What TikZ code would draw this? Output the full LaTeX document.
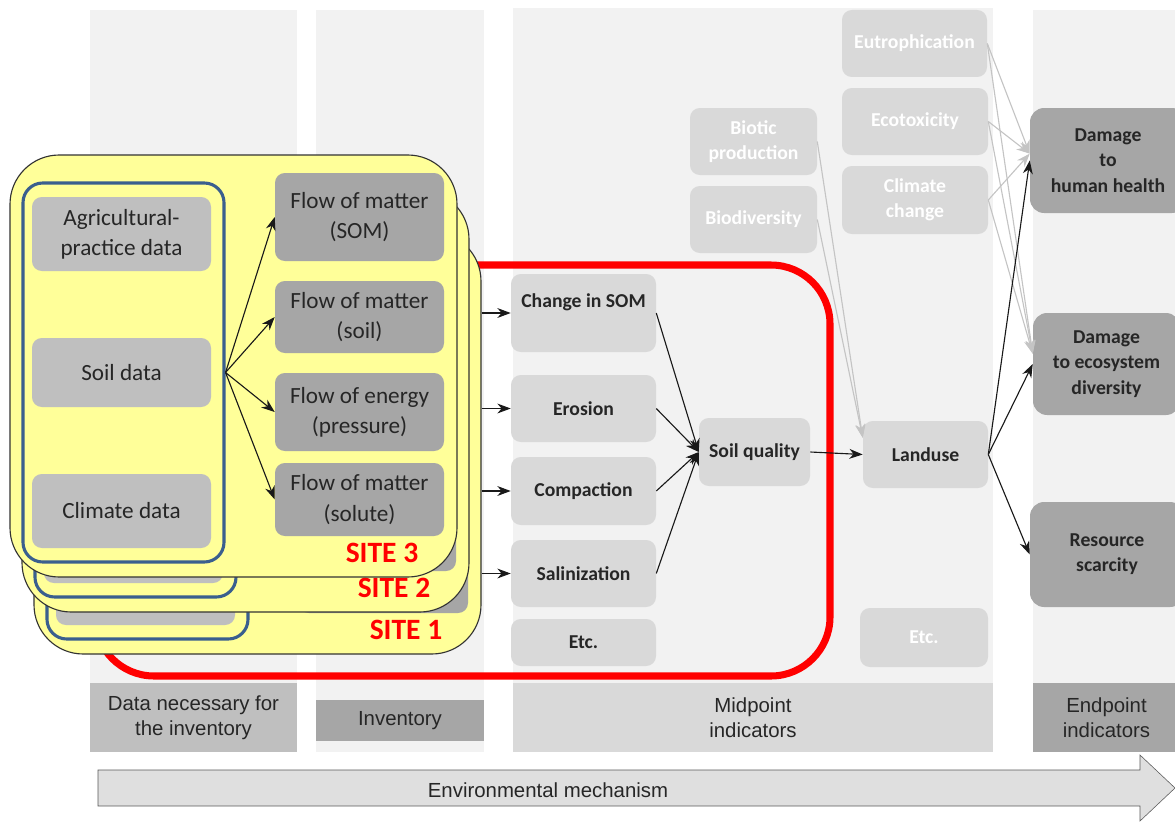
\documentclass[tikz,border=0pt]{standalone}
\usepackage{fontspec}
\setmainfont{Carlito}
\newfontfamily\axisfont{Liberation Sans}
\usetikzlibrary{arrows.meta}

\definecolor{colbg}{HTML}{F2F2F2}
\definecolor{datagray}{HTML}{BFBFBF}
\definecolor{flowgray}{HTML}{A6A6A6}
\definecolor{midgray}{HTML}{D9D9D9}
\definecolor{ghostgray}{HTML}{C4C4C4}
\definecolor{siteyellow}{HTML}{FFFF99}
\definecolor{siteblue}{HTML}{3A5F8E}
\definecolor{txt}{HTML}{262626}

\begin{document}
\begin{tikzpicture}[
    x=0.025cm, y=-0.025cm,
    area/.style args={#1/#2/#3/#4}{
      minimum width={(#3-#1)*0.025cm}, minimum height={(#4-#2)*0.025cm},
      at={({(#1+#3)/2},{(#2+#4)/2})}, inner sep=0pt},
    tag/.style={font=\axisfont\fontsize{14.5}{18}\selectfont, align=center, text=txt},
    databox/.style={fill=datagray, rounded corners=7pt, align=center, text=txt,
      font=\fontsize{16.5}{21.5}\selectfont},
    flowbox/.style={databox, fill=flowgray},
    midbox/.style={fill=midgray, rounded corners=7pt, align=center, text=txt,
      font=\bfseries\fontsize{14}{18}\selectfont},
    faded/.style={midbox, text=white},
    endbox/.style={midbox, fill=flowgray, rounded corners=10pt},
    sitebox/.style={fill=siteyellow, draw=black!80, line width=0.8pt, rounded corners=35pt},
    group/.style={draw=siteblue, line width=2.2pt, rounded corners=14pt},
    sitetag/.style={text=red, font=\bfseries\fontsize{21}{21}\selectfont},
    feed/.style={-{Stealth[length=9.5pt,width=7pt,inset=3pt]}, line width=0.8pt, draw=black!90},
    ghost/.style={feed, draw=ghostgray},
  ]
  \useasboundingbox (0,0) rectangle (1175,821);

  % columns and their captions
  \fill[colbg] (90,10) rectangle (297,752);
  \fill[colbg] (316,10) rectangle (484,752);
  \fill[colbg] (513,8) rectangle (993,752);
  \fill[colbg] (1033,10) rectangle (1190,752);
  \node[tag, fill=datagray, area=90/683/297/752] (datatag) {Data necessary for\\the inventory};
  \node[tag, fill=flowgray, area=316/700/484/741] (invtag) {Inventory};
  \node[tag, fill=midgray, area=513/683/993/752] (midtag) {Midpoint\\indicators};
  \node[tag, fill=flowgray, area=1033/683/1180/752] (endtag) {Endpoint\\indicators};

  % big arrow at the bottom
  \draw[draw=black!65, fill=midgray!85] (98,770) -- (1140,770) -- (1140,755) -- (1175,788)
    -- (1140,821) -- (1140,806) -- (98,806) -- cycle;
  \node[tag] (mechanism) at (548,790) {Environmental mechanism};

  % soil quality loop
  \draw[red, line width=5pt, rounded corners=42pt] (95,265) rectangle (830,676);

  % sites 1 and 2, behind
  \foreach \dx/\dy/\n in {24/77/1, 12/35/2}{
    \begin{scope}[shift={(\dx,\dy)}]
      \node[sitebox, area=10/155/457/577] (site\n) {};
      \node[group, area=23/183/224/562] {};
      \foreach \ya/\yb in {197/271, 338/407, 474/548}
        \node[databox, area=32/\ya/211/\yb] {};
      \foreach \ya/\yb in {173/261, 281/353, 373/451, 463/536}
        \node[flowbox, area=275/\ya/444/\yb] {};
      \node[sitetag] at (382,553) {SITE \n};
    \end{scope}
  }

  % site 3, in front
  \node[sitebox, area=10/155/457/577] (site3) {};
  \node[group, area=23/183/224/562] (inputs) {};
  \node[databox, area=32/197/211/271] (practice) {Agricultural-\\practice data};
  \node[databox, area=32/338/211/407] (soil) {Soil data};
  \node[databox, area=32/474/211/548] (climate) {Climate data};
  \node[flowbox, area=275/173/444/261] (fsom) {Flow of matter\\(SOM)};
  \node[flowbox, area=275/281/444/353] (fsoil) {Flow of matter\\(soil)};
  \node[flowbox, area=275/373/444/451] (fenergy) {Flow of energy\\(pressure)};
  \node[flowbox, area=275/463/444/536] (fsolute) {Flow of matter\\(solute)};
  \node[sitetag] (tag3) at (382,553) {SITE 3};
  \foreach \f in {fsom,fsoil,fenergy,fsolute}
    \draw[feed] (inputs.east) -- (\f.west);

  % midpoint indicators
  \node[midbox, area=511/274/656/352] (som) {Change in SOM\\\mbox{}};
  \node[midbox, area=511/375/656/442] (erosion) {Erosion};
  \node[midbox, area=511/457/656/525] (compaction) {Compaction};
  \node[midbox, area=511/540/656/607] (salin) {Salinization};
  \node[midbox, area=511/619/656/666] (etc1) {Etc.};
  \node[midbox, area=699/418/810/486] (soilq) {Soil quality};
  \node[midbox, area=863/421/988/488] (landuse) {Landuse};
  \node[faded, area=860/608/988/667] (etc2) {Etc.};
  \node[faded, area=690/108/817/175] (biotic) {Biotic\\production};
  \node[faded, area=690/186/817/253] (biodiv) {Biodiversity};
  \node[faded, area=842/10/987/77] (eutro) {Eutrophication};
  \node[faded, area=842/88/988/155] (ecotox) {Ecotoxicity};
  \node[faded, area=842/166/988/234] (climch) {Climate\\change};

  % endpoint indicators
  \node[endbox, area=1030/108/1186/213] (health) {Damage\\to\\human health};
  \node[endbox, area=1033/313/1180/415] (ecosys) {Damage\\to ecosystem\\diversity};
  \node[endbox, area=1030/502/1184/607] (scarcity) {Resource\\scarcity};

  \foreach \m in {som,erosion,compaction,salin}{
    \draw[feed] (site1.east |- \m.west) -- (\m.west);
    \draw[feed] (\m.east) -- (soilq.west);
  }
  \draw[feed] (soilq.east) -- (landuse.west);
  \foreach \m in {biotic,biodiv}
    \draw[ghost] (\m.east) -- (landuse.165);
  \foreach \m in {eutro,ecotox,climch}{
    \draw[ghost] (\m.east) -- (health.175);
    \draw[ghost] (\m.east) -- (ecosys.172);
  }
  \foreach \e in {health,ecosys,scarcity}
    \draw[feed] (landuse.east) -- (\e.west);
\end{tikzpicture}
\end{document}
